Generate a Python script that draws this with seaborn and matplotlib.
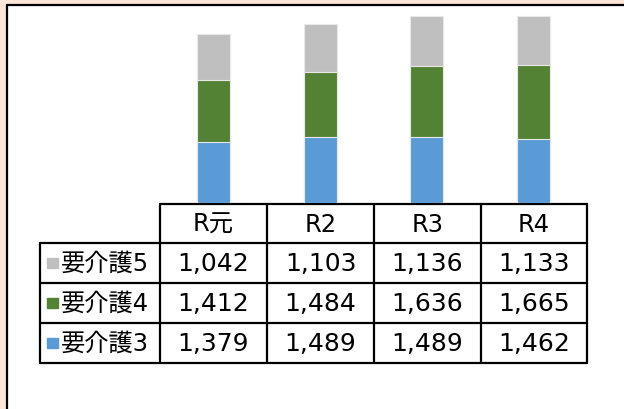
import numpy as np
import matplotlib.pyplot as plt
import pandas as pd
import seaborn as sns

# data
years = ['R元', 'R2', 'R3', 'R4']
care3 = [1379, 1489, 1489, 1462]
care4 = [1412, 1484, 1636, 1665]
care5 = [1042, 1103, 1136, 1133]
series_names = ['要介護5', '要介護4', '要介護3']
colors = {'要介護5': '#BFBFBF', '要介護4': '#548235', '要介護3': '#5B9BD5'}
title = '要介護度別認定者数の推移'

sns.set_style('white')
plt.rcParams['font.family'] = ['DejaVu Sans', 'Noto Sans CJK JP']
plt.rcParams['text.color'] = 'black'

df = pd.DataFrame({'year': years, '要介護3': care3, '要介護4': care4, '要介護5': care5})
df['top3'] = df['要介護3']
df['top4'] = df['要介護3'] + df['要介護4']
df['top5'] = df['top4'] + df['要介護5']

W, H = 624, 409
fig = plt.figure(figsize=(W / 100, H / 100), dpi=100)
fig.patch.set_facecolor('#FDE5D8')

# background frame + table drawn in pixel coords
bg = fig.add_axes([0, 0, 1, 1])
bg.set_xlim(0, W)
bg.set_ylim(H, 0)
bg.axis('off')
bg.add_patch(plt.Rectangle((7, 5), W, H, facecolor='white', edgecolor='none'))
bg.plot([7, W], [5, 5], color='black', lw=1.6)
bg.plot([7, 7], [5, H], color='black', lw=1.6)
bg.text(35, 3, title, fontsize=17.5, va='bottom', ha='left', color='#222222',
        family=['Noto Sans CJK JP'])

# bar chart
ax = fig.add_axes([160 / W, (H - 203) / H, 427 / W, 198 / H])
for col in ['top5', 'top4', 'top3']:
    name = {'top5': '要介護5', 'top4': '要介護4', 'top3': '要介護3'}[col]
    sns.barplot(data=df, x='year', y=col, color=colors[name], width=0.31,
                saturation=1, edgecolor='#E8E8E8', linewidth=0.8, ax=ax)
ax.set_xlim(-0.5, 3.5)
ax.set_ylim(0, 4500)
ax.axis('off')

# data table
col_edges = [40, 160, 267, 374, 481, 587]
row_edges = [204, 243, 283, 323, 363]
lw = 1.6
# header row (no corner cell)
bg.plot([col_edges[1], col_edges[-1]], [row_edges[0]] * 2, color='black', lw=lw)
for r in row_edges[1:]:
    bg.plot([col_edges[0], col_edges[-1]], [r, r], color='black', lw=lw)
for c in col_edges[1:]:
    bg.plot([c, c], [row_edges[0], row_edges[-1]], color='black', lw=lw)
bg.plot([col_edges[0]] * 2, [row_edges[1], row_edges[-1]], color='black', lw=lw)

fs = 17.5
for j, y in enumerate(years):
    cx = (col_edges[j + 1] + col_edges[j + 2]) / 2
    cy = (row_edges[0] + row_edges[1]) / 2
    bg.text(cx, cy + 1, y, fontsize=fs, ha='center', va='center')

for i, name in enumerate(series_names):
    cy = (row_edges[i + 1] + row_edges[i + 2]) / 2
    bg.add_patch(plt.Rectangle((47, cy - 5.5), 10.5, 10.5, color=colors[name]))
    bg.text(61, cy + 1, name, fontsize=fs, ha='left', va='center')
    for j in range(len(years)):
        cx = (col_edges[j + 1] + col_edges[j + 2]) / 2
        bg.text(cx, cy + 1, f'{df[name][j]:,}', fontsize=18, ha='center',
                va='center')

fig.savefig('out.png', dpi=100, facecolor=fig.get_facecolor())
